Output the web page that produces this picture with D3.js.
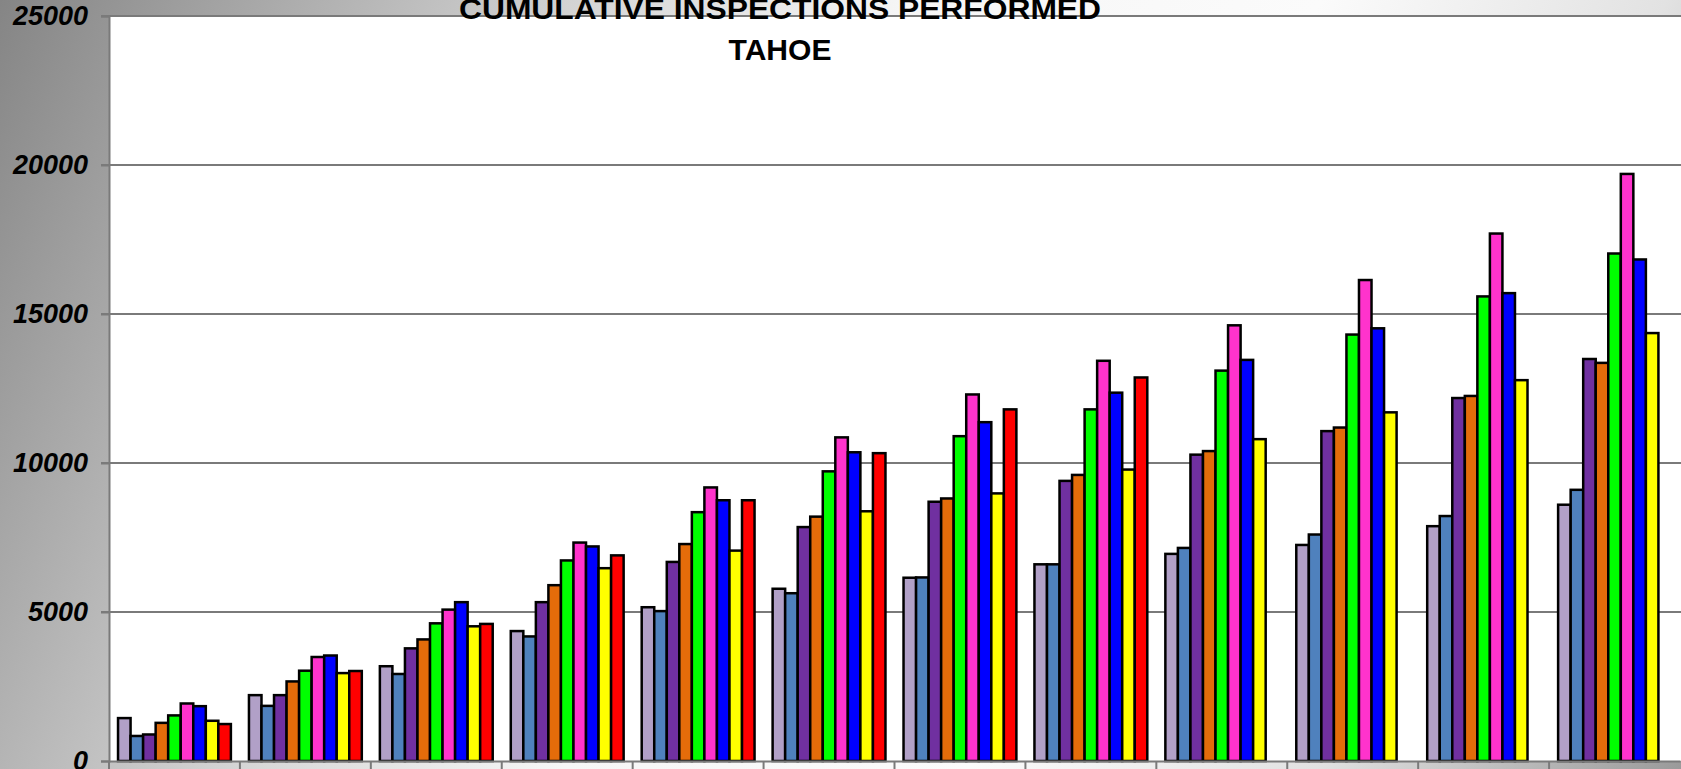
<!DOCTYPE html>
<html>
<head>
<meta charset="utf-8">
<script src="https://cdn.jsdelivr.net/npm/d3@7"></script>
<style>
  body { margin: 0; overflow: hidden; }
  text { font-family: "Liberation Sans", Arial, sans-serif; }
</style>
</head>
<body>
<div id="chart"></div>
<script>
// categories and series
var months = ["JUL", "AUG", "SEP", "OCT", "NOV", "DEC", "JAN", "FEB", "MAR", "APR", "MAY", "JUN"];
var yTicks = [0, 5000, 10000, 15000, 20000, 25000];
var titleLines = ["CUMULATIVE INSPECTIONS PERFORMED", "TAHOE"];

var seriesNames = ["S1", "S2", "S3", "S4", "S5", "S6", "S7", "S8", "S9"];
var seriesColors = ["#b1a0c7", "#4f81bd", "#7030a0", "#e46c0a", "#00ff00", "#ff33cc", "#0000ff", "#ffff00", "#ff0000"];

var s1Values = [1440, 2210, 3180, 4360, 5160, 5780, 6150, 6600, 6950, 7250, 7880, 8600];
var s2Values = [840, 1850, 2920, 4180, 5030, 5630, 6160, 6600, 7150, 7600, 8220, 9100];
var s3Values = [890, 2210, 3780, 5330, 6680, 7850, 8700, 9400, 10280, 11070, 12180, 13490];
var s4Values = [1280, 2670, 4080, 5900, 7280, 8200, 8810, 9600, 10400, 11190, 12250, 13360];
var s5Values = [1530, 3030, 4620, 6730, 8350, 9720, 10900, 11800, 13100, 14310, 15590, 17030];
var s6Values = [1930, 3490, 5080, 7330, 9180, 10860, 12300, 13430, 14620, 16140, 17700, 19700];
var s7Values = [1840, 3540, 5330, 7200, 8750, 10360, 11370, 12360, 13460, 14520, 15700, 16830];
var s8Values = [1350, 2950, 4520, 6470, 7060, 8380, 8980, 9780, 10800, 11700, 12780, 14360];
var s9Values = [1240, 3020, 4600, 6900, 8750, 10330, 11800, 12870];

var allValues = [s1Values, s2Values, s3Values, s4Values, s5Values, s6Values, s7Values, s8Values, s9Values];

var W = 1681, H = 769;
var plot = {left: 109, right: 1680, top: 16, bottom: 761};

var svg = d3.select("#chart")
    .append("svg")
    .attr("width", W)
    .attr("height", H);

// diagonal dark-light-dark background
var grad = svg.append("defs").append("linearGradient")
    .attr("id", "bg")
    .attr("gradientUnits", "userSpaceOnUse")
    .attr("x1", 0).attr("y1", 0)
    .attr("x2", W).attr("y2", H);
[[0, "#858585"], [0.3, "#d8d8d8"], [0.45, "#f6f6f6"], [0.65, "#fbfbfb"], [0.82, "#e2e2e2"], [1, "#9a9a9a"]]
    .forEach(function(s) {
        grad.append("stop").attr("offset", s[0]).attr("stop-color", s[1]);
    });

svg.append("rect")
    .attr("width", W).attr("height", H)
    .attr("fill", "url(#bg)");

// plot area
svg.append("rect")
    .attr("x", plot.left).attr("y", plot.top)
    .attr("width", W - plot.left).attr("height", plot.bottom - plot.top)
    .attr("fill", "#ffffff");

var x = d3.scaleBand()
    .domain(months)
    .range([plot.left, plot.right])
    .paddingInner(0.138)
    .paddingOuter(0.069);

var xBand = d3.scaleBand()
    .domain(months)
    .range([plot.left, plot.right]);

var xSeries = d3.scaleBand()
    .domain(seriesNames)
    .range([0, x.bandwidth()]);

var y = d3.scaleLinear()
    .domain([0, 25000])
    .range([plot.bottom, plot.top]);

// gridlines
svg.append("g")
    .selectAll("line")
    .data(yTicks.filter(function(d) { return d > 0; }))
    .enter()
    .append("line")
    .attr("x1", plot.left - 8).attr("x2", W)
    .attr("y1", function(d) { return y(d); })
    .attr("y2", function(d) { return y(d); })
    .attr("stroke", "#7a7a7a")
    .attr("stroke-width", 2);

// bars
allValues.forEach(function(vals, i) {
    svg.append("g")
        .selectAll("rect")
        .data(vals)
        .enter()
        .append("rect")
        .attr("x", function(d, j) { return x(months[j]) + xSeries(seriesNames[i]); })
        .attr("y", function(d) { return y(d); })
        .attr("width", xSeries.bandwidth())
        .attr("height", function(d) { return plot.bottom - y(d); })
        .attr("fill", seriesColors[i])
        .attr("stroke", "#000")
        .attr("stroke-width", 2.5);
});

// y axis
var yAxis = svg.append("g")
    .attr("transform", "translate(" + plot.left + ",0)")
    .call(d3.axisLeft(y).tickValues(yTicks).tickSize(8).tickPadding(13).tickFormat(d3.format("d")));
yAxis.select(".domain").attr("stroke", "#7a7a7a").attr("stroke-width", 2);
yAxis.selectAll(".tick line").attr("stroke", "#7a7a7a").attr("stroke-width", 2);
yAxis.selectAll("text")
    .attr("fill", "#000")
    .style("font-size", "27px")
    .style("font-weight", "bold")
    .style("font-style", "italic")
    .style("font-family", "'Liberation Sans', Arial, sans-serif");

// x axis
var xAxis = svg.append("g")
    .attr("transform", "translate(0," + plot.bottom + ")")
    .call(d3.axisBottom(xBand).tickSize(0).tickPadding(22));
xAxis.select(".domain").attr("stroke", "#7a7a7a").attr("stroke-width", 2);
xAxis.selectAll("text")
    .attr("fill", "#000")
    .style("font-size", "27px")
    .style("font-weight", "bold")
    .style("font-style", "italic")
    .style("font-family", "'Liberation Sans', Arial, sans-serif");

// category boundary ticks
xAxis.append("g")
    .selectAll("line")
    .data(months)
    .enter()
    .append("line")
    .attr("x1", function(d) { return xBand(d); })
    .attr("x2", function(d) { return xBand(d); })
    .attr("y1", 0).attr("y2", 10)
    .attr("stroke", "#7a7a7a")
    .attr("stroke-width", 2);

// title
svg.append("g")
    .selectAll("text")
    .data(titleLines)
    .enter()
    .append("text")
    .attr("x", 780)
    .attr("y", function(d, i) { return 19 + i * 41; })
    .attr("text-anchor", "middle")
    .attr("textLength", function(d, i) { return i === 0 ? 642 : 103; })
    .attr("lengthAdjust", "spacingAndGlyphs")
    .style("font-size", "30px")
    .style("font-weight", "bold")
    .attr("fill", "#000")
    .text(function(d) { return d; });
</script>
</body>
</html>
